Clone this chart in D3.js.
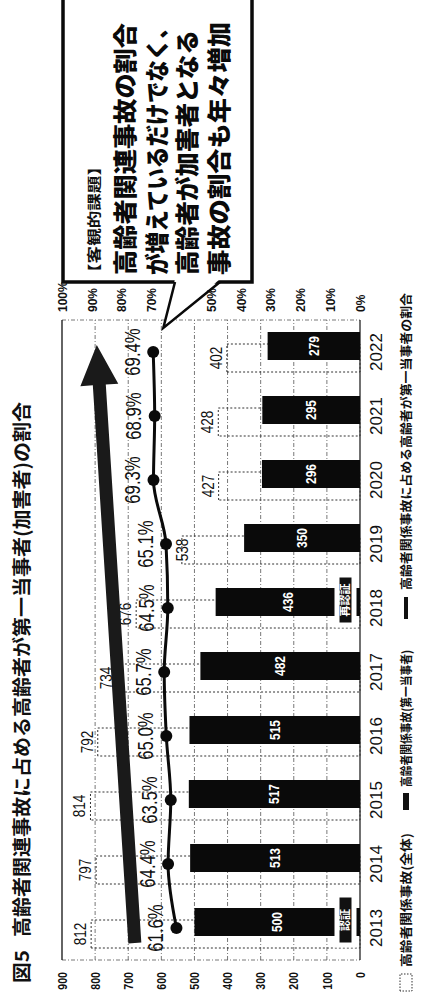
<!DOCTYPE html>
<html lang="ja">
<head>
<meta charset="utf-8">
<script src="https://cdn.jsdelivr.net/npm/d3@7"></script>
<style>
  html, body { margin: 0; padding: 0; background: #fff; }
  svg { display: block; }
</style>
</head>
<body>
<div id="chart"></div>
<script>
// ---- data ----
const years = ["2013", "2014", "2015", "2016", "2017", "2018", "2019", "2020", "2021", "2022"];
const totalAccidents = [812, 797, 814, 792, 734, 676, 538, 427, 428, 402];      // 高齢者関係事故(全体)
const firstPartyAccidents = [500, 513, 517, 515, 482, 436, 350, 296, 295, 279]; // 高齢者関係事故(第一当事者)
const firstPartyShare = [61.6, 64.4, 63.5, 65.0, 65.7, 64.5, 65.1, 69.3, 68.9, 69.4]; // 割合(%)
const countTicks = [0, 100, 200, 300, 400, 500, 600, 700, 800, 900];
const shareTicks = [0, 10, 20, 30, 40, 50, 60, 70, 80, 90, 100];
const eventYears = ["2013", "2018"];
const eventLabels = ["認証", "再認証"];

const titleMark = "図5";
const titleText = "高齢者関連事故に占める高齢者が第一当事者(加害者)の割合";
const legendLabels = ["高齢者関係事故(全体)", "高齢者関係事故(第一当事者)", "高齢者関係事故に占める高齢者が第一当事者の割合"];
const calloutHead = "【客観的課題】";
const calloutLines = ["高齢者関連事故の割合", "が増えているだけでなく、", "高齢者が加害者となる", "事故の割合も年々増加"];

// ---- page & rotated drawing frame ----
const pageW = 445, pageH = 1000;

const JP = "'Noto Sans CJK JP', 'Noto Sans', sans-serif";
const NUM = "'Liberation Sans', Arial, sans-serif";

const svg = d3.select("#chart").append("svg")
  .attr("width", pageW).attr("height", pageH)
  .attr("viewBox", `0 0 ${pageW} ${pageH}`);
svg.append("rect").attr("width", pageW).attr("height", pageH).attr("fill", "#fff");

// chart is laid out landscape, then turned a quarter counter-clockwise
const g = svg.append("g").attr("transform", `translate(0,${pageH}) rotate(-90)`);

// horizontally condense rendered text
function condense(sel, k) {
  sel.each(function () {
    const w = this.getComputedTextLength();
    this.setAttribute("textLength", w * k);
    this.setAttribute("lengthAdjust", "spacingAndGlyphs");
  });
}
function fitWidth(sel, w) {
  sel.attr("textLength", w).attr("lengthAdjust", "spacingAndGlyphs");
}

// ---- scales ----
const x = d3.scaleBand().domain(years).range([40, 680]);
const cx = d => x(d) + x.bandwidth() / 2;
const yCount = d3.scaleLinear().domain([0, 900]).range([360, 62]);
const yShare = d3.scaleLinear().domain([0, 100]).range([360, 62]);
const barW = 28, barShift = 6;

// ---- grid ----
const grid = g.append("g");
grid.selectAll("line.h").data(countTicks.filter(t => t > 0 && t < 900)).join("line")
  .attr("x1", 40).attr("x2", 680)
  .attr("y1", d => yCount(d)).attr("y2", d => yCount(d))
  .attr("stroke", "#555").attr("stroke-width", 0.8).attr("stroke-dasharray", "4 2 1 2");
grid.selectAll("line.v").data([40, 680]).join("line")
  .attr("x1", d => d).attr("x2", d => d)
  .attr("y1", yCount(900)).attr("y2", yCount(0))
  .attr("stroke", "#555").attr("stroke-width", 0.8).attr("stroke-dasharray", "4 2 1 2");
grid.append("line").attr("x1", 40).attr("x2", 680).attr("y1", yCount(900)).attr("y2", yCount(900))
  .attr("stroke", "#111").attr("stroke-width", 1.3);
grid.append("line").attr("x1", 40).attr("x2", 680).attr("y1", yCount(0)).attr("y2", yCount(0))
  .attr("stroke", "#111").attr("stroke-width", 1.2);

// ---- axes labels ----
const leftAxis = g.append("g").attr("transform", "translate(28,0)")
  .call(d3.axisLeft(yCount).tickValues(countTicks).tickSize(0).tickPadding(0));
leftAxis.select(".domain").remove();
leftAxis.selectAll("text").attr("font-family", NUM).attr("font-weight", "bold")
  .attr("font-size", 12).attr("fill", "#111").attr("dy", "0.35em");
condense(leftAxis.selectAll("text"), 0.88);

const rightAxis = g.append("g").attr("transform", "translate(688,0)")
  .call(d3.axisRight(yShare).tickValues(shareTicks).tickSize(0).tickPadding(0).tickFormat(d => d + "%"));
rightAxis.select(".domain").remove();
rightAxis.selectAll("text").attr("font-family", NUM).attr("font-weight", "bold")
  .attr("font-size", 12).attr("fill", "#111").attr("dy", "0.35em");

// ---- total accidents: dotted outline bars ----
const rows = years.map((yr, i) => ({
  yr, total: totalAccidents[i], first: firstPartyAccidents[i], share: firstPartyShare[i]
}));

g.append("g").selectAll("rect").data(rows).join("rect")
  .attr("x", d => cx(d.yr) - barShift - barW / 2)
  .attr("width", barW)
  .attr("y", d => yCount(d.total))
  .attr("height", d => yCount(0) - yCount(d.total))
  .attr("fill", "none").attr("stroke", "#333").attr("stroke-width", 1)
  .attr("stroke-dasharray", "2 2");

// ---- first-party accidents: black bars ----
g.append("g").selectAll("rect").data(rows).join("rect")
  .attr("x", d => cx(d.yr) + barShift - barW / 2)
  .attr("width", barW)
  .attr("y", d => yCount(d.first))
  .attr("height", d => yCount(0) - yCount(d.first))
  .attr("fill", "#0a0a0a");

// bar value labels
const barLabels = g.append("g").selectAll("text").data(rows).join("text")
  .attr("x", d => cx(d.yr) + barShift)
  .attr("y", d => (yCount(d.first) + yCount(0)) / 2)
  .attr("text-anchor", "middle").attr("dy", "0.35em")
  .attr("font-family", NUM).attr("font-weight", "bold").attr("font-size", 14.5)
  .attr("fill", "#fff").text(d => d.first);
condense(barLabels, 0.82);

// event tags on the bar foot
const tags = g.append("g").selectAll("g").data(eventYears.map((yr, i) => ({ yr, label: eventLabels[i] })))
  .join("g").attr("transform", d => `translate(${cx(d.yr) + 8},345.5)`);
tags.append("rect").attr("x", -25).attr("y", -8.5).attr("width", 50).attr("height", 17)
  .attr("fill", "#111").attr("stroke", "#fff").attr("stroke-width", 5);
tags.append("text").attr("text-anchor", "middle").attr("dy", "0.36em")
  .attr("font-family", JP).attr("font-weight", "bold").attr("font-size", 11).attr("fill", "#fff")
  .text(d => d.label);

// total labels sit over the outline bar, dropping below a share marker when they would touch it
const totalLabelY = d => {
  const above = yCount(d.total) - 11;
  const marker = yShare(d.share);
  return Math.abs(above - marker) < 14 ? marker + 16 : above;
};
const totalLabels = g.append("g").selectAll("text").data(rows).join("text")
  .attr("x", d => cx(d.yr) - barShift)
  .attr("y", totalLabelY)
  .attr("text-anchor", "middle").attr("dy", "0.35em")
  .attr("font-family", NUM).attr("font-size", 17).attr("fill", "#111")
  .text(d => d.total);
condense(totalLabels, 0.8);

// ---- trend arrow ----
const arrowFrom = { yr: "2013", value: 680 };
const arrowTo = { yr: "2022", value: 795 };
(function drawArrow() {
  const S = [x(arrowFrom.yr) + 17, yCount(arrowFrom.value)];
  const E = [cx(arrowTo.yr) + 7, yCount(arrowTo.value)];
  const len = Math.hypot(E[0] - S[0], E[1] - S[1]);
  const u = [(E[0] - S[0]) / len, (E[1] - S[1]) / len];
  const n = [-u[1], u[0]];
  const headLen = 40, headHalf = 19, shaftHalf = 6.5;
  const B = [E[0] - u[0] * headLen, E[1] - u[1] * headLen];
  const p = (P, k) => [P[0] + n[0] * k, P[1] + n[1] * k];
  const pts = [p(S, shaftHalf), p(B, shaftHalf), p(B, headHalf), E, p(B, -headHalf), p(B, -shaftHalf), p(S, -shaftHalf)];
  g.append("path").attr("d", d3.line()(pts) + "Z").attr("fill", "#1a1a1a");
})();

// ---- share line ----
g.append("path").datum(rows)
  .attr("d", d3.line().x(d => cx(d.yr)).y(d => yShare(d.share)).curve(d3.curveMonotoneX))
  .attr("fill", "none").attr("stroke", "#0a0a0a").attr("stroke-width", 3);
g.append("g").selectAll("circle").data(rows).join("circle")
  .attr("cx", d => cx(d.yr)).attr("cy", d => yShare(d.share)).attr("r", 6).attr("fill", "#0a0a0a");
const shareLabels = g.append("g").selectAll("text").data(rows).join("text")
  .attr("x", d => cx(d.yr)).attr("y", d => yShare(d.share) - 21)
  .attr("text-anchor", "middle").attr("dy", "0.35em")
  .attr("font-family", NUM).attr("font-size", 22).attr("fill", "#111")
  .text(d => d3.format(".1f")(d.share) + "%");
condense(shareLabels, 0.76);

// ---- year labels ----
g.append("g").selectAll("text").data(years).join("text")
  .attr("x", d => cx(d)).attr("y", 376)
  .attr("text-anchor", "middle").attr("dy", "0.35em")
  .attr("font-family", NUM).attr("font-size", 17).attr("fill", "#111")
  .text(d => d);

// ---- title ----
g.append("text").attr("x", 17).attr("y", 22).attr("dy", "0.36em")
  .attr("font-family", JP).attr("font-weight", "bold").attr("font-size", 19).attr("fill", "#111")
  .text(titleMark).call(fitWidth, 33);
g.append("text").attr("x", 63).attr("y", 22).attr("dy", "0.36em")
  .attr("font-family", JP).attr("font-weight", "bold").attr("font-size", 19).attr("fill", "#111")
  .text(titleText).call(fitWidth, 535);

// ---- legend ----
const lg = g.append("g");
lg.append("rect").attr("x", 9).attr("y", 400).attr("width", 17).attr("height", 12)
  .attr("fill", "none").attr("stroke", "#333").attr("stroke-width", 1).attr("stroke-dasharray", "1.5 1.5");
lg.append("rect").attr("x", 190).attr("y", 403).attr("width", 17).attr("height", 6).attr("fill", "#111");
lg.append("rect").attr("x", 381).attr("y", 404).attr("width", 22).attr("height", 4).attr("fill", "#111");
const legendX = [33, 213, 410];
const legendW = [134, 137, 297];
legendLabels.forEach((t, i) => {
  lg.append("text").attr("x", legendX[i]).attr("y", 406).attr("dy", "0.36em")
    .attr("font-family", JP).attr("font-weight", "bold").attr("font-size", 12.5).attr("fill", "#111")
    .text(t).call(fitWidth, legendW[i]);
});

// ---- callout ----
const callout = g.append("g");
callout.append("rect").attr("x", 718).attr("y", 63).attr("width", 300).attr("height", 189)
  .attr("fill", "#fff").attr("stroke", "#0a0a0a").attr("stroke-width", 3.5);
const tip = [cx("2022") + 24, yShare(66)];
callout.append("path").attr("d", d3.line()([[721, 175], tip, [721, 220]]) + "Z")
  .attr("fill", "#fff");
callout.append("path").attr("d", d3.line()([[718, 175], tip, [718, 220]]))
  .attr("fill", "none").attr("stroke", "#0a0a0a").attr("stroke-width", 2.5);
callout.append("text").attr("x", 719).attr("y", 94).attr("dy", "0.36em")
  .attr("font-family", JP).attr("font-weight", "bold").attr("font-size", 14).attr("fill", "#111")
  .text(calloutHead).call(fitWidth, 123);
const lineY = [125, 157, 187, 219];
const lineW = [252, 258, 245, 253];
calloutLines.forEach((t, i) => {
  callout.append("text").attr("x", 725).attr("y", lineY[i]).attr("dy", "0.36em")
    .attr("font-family", JP).attr("font-weight", "900").attr("font-size", 24).attr("fill", "#0a0a0a")
    .text(t).call(fitWidth, lineW[i]);
});
</script>
</body>
</html>
